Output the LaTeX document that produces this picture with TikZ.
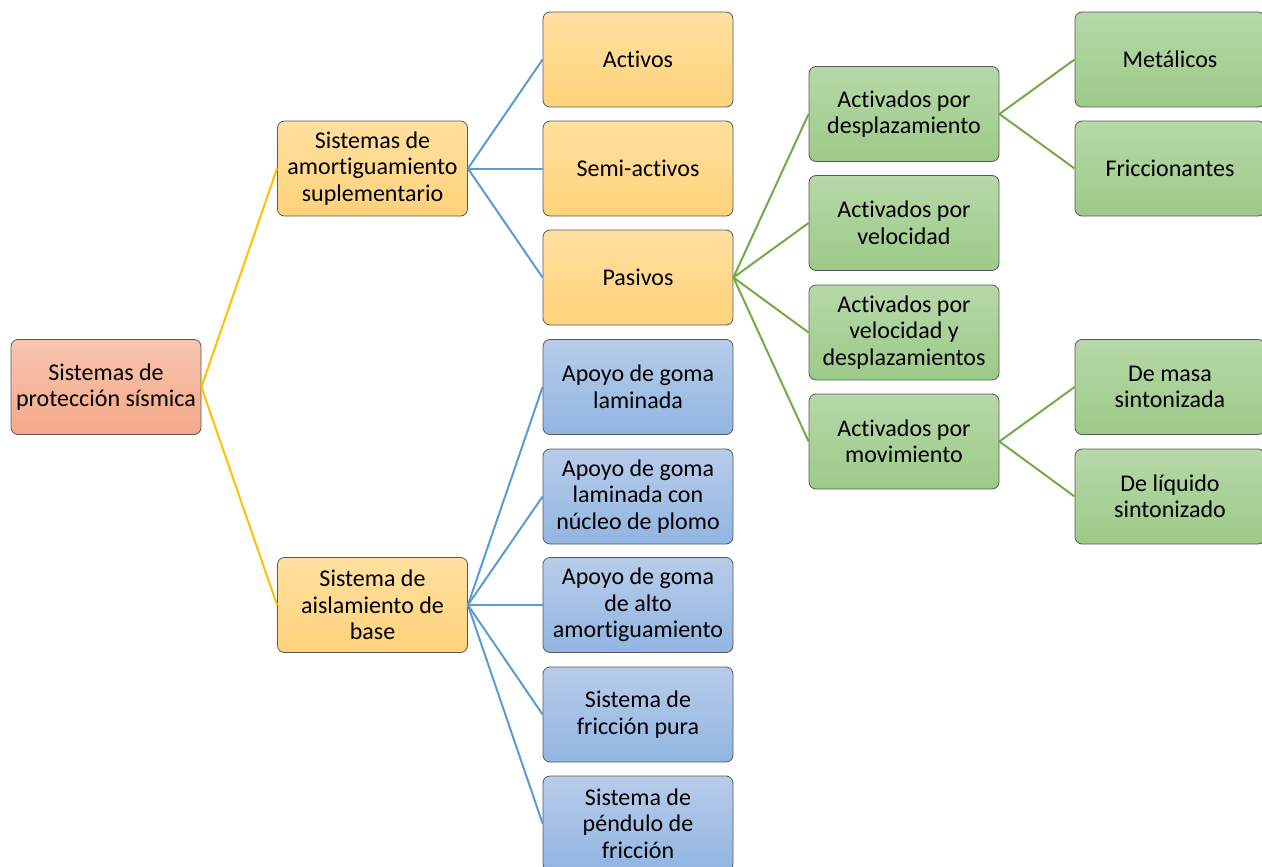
\documentclass[tikz,border=0pt]{standalone}
\usepackage{fontspec}
\setmainfont{Carlito}[Ligatures=NoCommon]
\begin{document}
\begin{tikzpicture}[x=1pt,y=-1pt,
  box/.style={rectangle, rounded corners=7pt, draw=black!65, line width=0.8pt,
    minimum width=190pt, minimum height=95pt, align=center,
    inner sep=0pt, font=\fontsize{24}{26.5}\selectfont},
  orangebox/.style={box, top color=orange1, bottom color=orange2},
  goldbox/.style={box, top color=gold1, bottom color=gold2},
  bluebox/.style={box, top color=blue1, bottom color=blue2},
  greenbox/.style={box, top color=green1, bottom color=green2},
  yline/.style={draw=lineyellow, line width=2pt},
  bline/.style={draw=lineblue, line width=2pt},
  gline/.style={draw=linegreen, line width=2pt}]
\definecolor{orange1}{RGB}{248,198,176}
\definecolor{orange2}{RGB}{244,168,136}
\definecolor{gold1}{RGB}{255,224,160}
\definecolor{gold2}{RGB}{255,210,122}
\definecolor{blue1}{RGB}{184,204,234}
\definecolor{blue2}{RGB}{145,181,226}
\definecolor{green1}{RGB}{183,216,168}
\definecolor{green2}{RGB}{156,202,136}
\definecolor{lineyellow}{RGB}{255,192,0}
\definecolor{lineblue}{RGB}{91,155,213}
\definecolor{linegreen}{RGB}{112,173,71}
\useasboundingbox (0,0) rectangle (1262,867);
\clip (0,0) rectangle (1262,867);

\node[orangebox] (root) at (106,387) {Sistemas de\\protección sísmica};

\node[goldbox] (amort) at (372.5,168.5) {Sistemas de\\amortiguamiento\\suplementario};
\node[goldbox] (aisl) at (372.5,605) {Sistema de\\aislamiento de\\base};

\node[goldbox] (activos) at (638,59.5) {Activos};
\node[goldbox] (semi) at (638,168.5) {Semi-activos};
\node[goldbox] (pasivos) at (638,277.5) {Pasivos};

\node[bluebox] (ap1) at (638,387) {Apoyo de goma\\laminada};
\node[bluebox] (ap2) at (638,496.5) {Apoyo de goma\\laminada con\\núcleo de plomo};
\node[bluebox] (ap3) at (638,605) {Apoyo de goma\\de alto\\amortiguamiento};
\node[bluebox] (ap4) at (638,714.5) {Sistema de\\fricción pura};
\node[bluebox] (ap5) at (638,823.5) {Sistema de\\péndulo de\\fricción};

\node[greenbox] (desp) at (904,114) {Activados por\\desplazamiento};
\node[greenbox] (vel) at (904,223) {Activados por\\velocidad};
\node[greenbox] (veld) at (904,332.5) {Activados por\\velocidad y\\desplazamientos};
\node[greenbox] (mov) at (904,441.5) {Activados por\\movimiento};

\node[greenbox] (met) at (1170,59.5) {Metálicos};
\node[greenbox] (fric) at (1170,168.5) {Friccionantes};
\node[greenbox] (masa) at (1170,387) {De masa\\sintonizada};
\node[greenbox] (liq) at (1170,496.5) {De líquido\\sintonizado};

\foreach \c in {amort,aisl} \draw[yline] (root.east) -- (\c.west);
\foreach \c in {activos,semi,pasivos} \draw[bline] (amort.east) -- (\c.west);
\foreach \c in {ap1,ap2,ap3,ap4,ap5} \draw[bline] (aisl.east) -- (\c.west);
\foreach \c in {desp,vel,veld,mov} \draw[gline] (pasivos.east) -- (\c.west);
\foreach \c in {met,fric} \draw[gline] (desp.east) -- (\c.west);
\foreach \c in {masa,liq} \draw[gline] (mov.east) -- (\c.west);
\end{tikzpicture}
\end{document}
